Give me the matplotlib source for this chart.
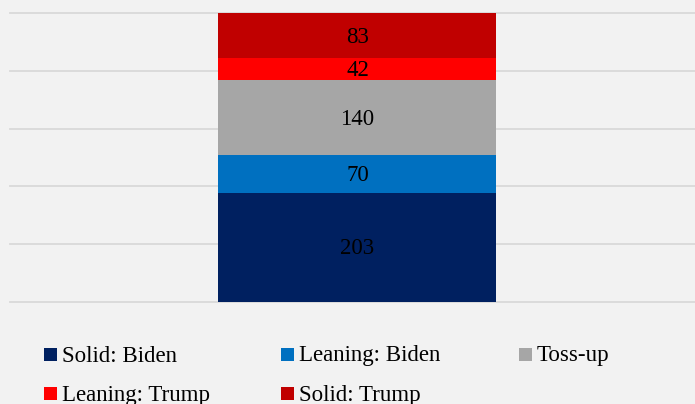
import numpy as np
import matplotlib
matplotlib.use("Agg")
import matplotlib.pyplot as plt
from matplotlib.patches import Rectangle

# electoral votes by rating
categories = ["Solid: Biden", "Leaning: Biden", "Toss-up", "Leaning: Trump", "Solid: Trump"]
votes = [203, 70, 140, 42, 83]
colors = ["#002060", "#0070c0", "#a6a6a6", "#ff0000", "#c00000"]

plt.rcParams["font.family"] = ["Liberation Serif", "DejaVu Serif"]

bg = "#f2f2f2"
fig = plt.figure(figsize=(6.95, 4.04), dpi=100, facecolor=bg)
ax = fig.add_axes([10 / 695, 0.2537, 1.0, 0.7129])
ax.set_facecolor(bg)

total = sum(votes)
bottom = 0
for cat, v, c in zip(categories, votes, colors):
    ax.bar(0, v, width=0.4, bottom=bottom, color=c, zorder=3)
    ax.annotate(str(v), (0, bottom + v / 2), xytext=(0, -1.5), textcoords="offset pixels",
                ha="center", va="center", fontsize=16.5, color="black", zorder=4)
    bottom += v

ax.set_xlim(-0.5, 0.5)
ax.set_ylim(0, total)
ax.set_yticks(np.linspace(0, total, 6))
ax.grid(axis="y", color="#d9d9d9", linewidth=1.3, zorder=0)
for gl in ax.get_ygridlines():
    gl.set_clip_on(False)
ax.tick_params(left=False, bottom=False, labelleft=False, labelbottom=False)
for s in ax.spines.values():
    s.set_visible(False)

# legend laid out in three even columns
col_x = [44, 281, 519]
row_y = [354, 393]
for i, (cat, c) in enumerate(zip(categories, colors)):
    x = col_x[i % 3]
    y = row_y[i // 3]
    fig.patches.append(Rectangle((x / 695, 1 - (y + 6.5) / 404), 13 / 695, 13 / 404,
                                 transform=fig.transFigure, facecolor=c, edgecolor="none"))
    fig.text((x + 18) / 695, 1 - (y + 7.5) / 404, cat, ha="left", va="baseline",
             fontsize=16.5, color="black")

fig.savefig("out.png", dpi=100, facecolor=bg)
